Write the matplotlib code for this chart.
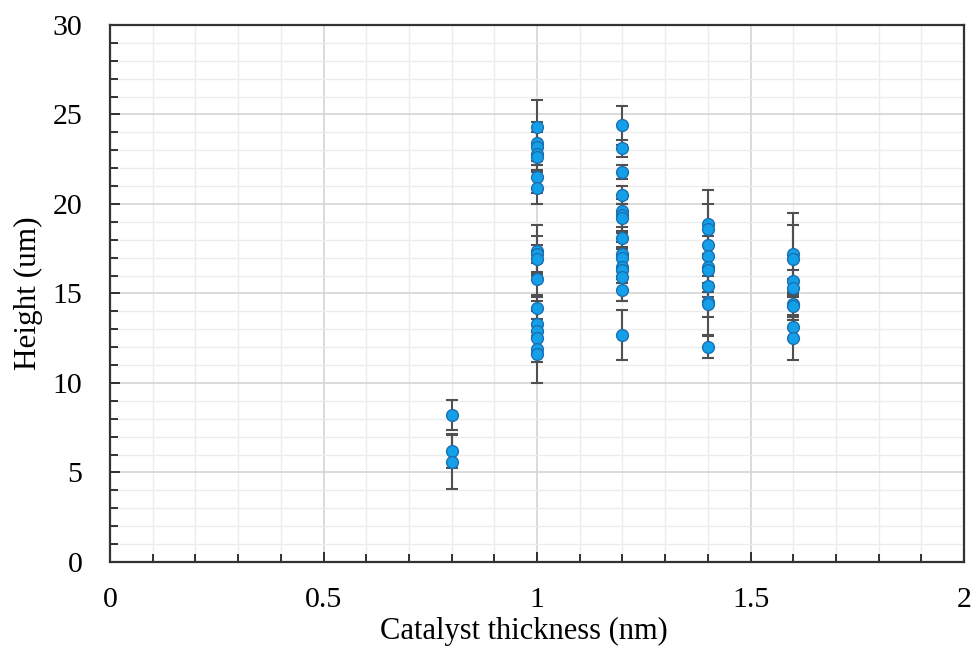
import numpy as np
import matplotlib.pyplot as plt
from matplotlib.ticker import MultipleLocator

# thickness groups (nm) and measured heights (um) with error bars
x08 = [0.8, 0.8, 0.8]
h08 = [8.2, 6.2, 5.6]
e08 = [0.85, 0.95, 1.5]

x10 = [1.0] * 17
h10 = [24.3, 23.4, 23.2, 22.8, 22.6, 21.5, 20.9, 17.4, 17.2, 16.9, 15.8, 14.2, 13.3, 12.9, 12.5, 11.9, 11.6]
e10 = [1.5, 1.2, 0.8, 0.6, 0.7, 0.9, 0.9, 1.4, 1.0, 0.8, 0.9, 0.6, 0.7, 1.7, 0.8, 0.7, 1.6]

x12 = [1.2] * 15
h12 = [24.4, 23.1, 21.8, 20.5, 19.6, 19.4, 19.2, 18.1, 17.2, 17.0, 16.5, 16.3, 15.9, 15.2, 12.7]
e12 = [1.1, 0.5, 0.4, 0.5, 0.4, 0.9, 0.8, 0.6, 0.7, 0.6, 0.5, 0.7, 1.3, 0.6, 1.4]

x14 = [1.4] * 10
h14 = [18.9, 18.6, 17.7, 17.1, 16.5, 16.3, 15.4, 14.5, 14.4, 12.0]
e14 = [1.9, 1.4, 0.5, 0.6, 1.2, 0.7, 0.6, 1.8, 0.7, 0.6]

x16 = [1.6] * 8
h16 = [17.2, 16.9, 15.7, 15.3, 14.4, 14.3, 13.1, 12.5]
e16 = [2.3, 1.9, 0.6, 0.5, 0.6, 0.8, 0.6, 1.2]

xs = x08 + x10 + x12 + x14 + x16
hs = h08 + h10 + h12 + h14 + h16
es = e08 + e10 + e12 + e14 + e16

plt.rcParams['font.family'] = ['Liberation Serif', 'DejaVu Serif']

fig = plt.figure(figsize=(9.72, 6.47), dpi=100)
ax = fig.add_axes([0.1132, 0.1314, 0.8786, 0.83])

ax.errorbar(xs, hs, yerr=es, fmt='none', ecolor='#505050', elinewidth=1.5,
            capsize=4, capthick=1.5, zorder=2)
ax.plot(xs, hs, 'o', markersize=8.5, markerfacecolor='#14a0e8',
        markeredgecolor='#1a6fb0', markeredgewidth=1.0, zorder=3)

ax.set_xlim(0, 2)
ax.set_ylim(0, 30)
ax.xaxis.set_major_locator(MultipleLocator(0.5))
ax.xaxis.set_minor_locator(MultipleLocator(0.1))
ax.yaxis.set_major_locator(MultipleLocator(5))
ax.yaxis.set_minor_locator(MultipleLocator(1))
ax.set_xticks([0, 0.5, 1, 1.5, 2])
ax.set_xticklabels(['0', '0.5', '1', '1.5', '2'])

ax.grid(which='major', color='#d4d4d4', linewidth=1.2, zorder=0)
ax.grid(which='minor', color='#ececec', linewidth=1.0, zorder=0)
ax.set_axisbelow(True)

ax.tick_params(axis='x', which='both', direction='in', bottom=True, top=False,
               labelsize=21.5, pad=18, color='#222222')
ax.tick_params(axis='y', which='both', direction='in', left=True, right=False,
               labelsize=21.5, pad=20, color='#222222')
ax.tick_params(which='major', length=7, width=1.3)
ax.tick_params(which='minor', length=6, width=1.3)

for s in ax.spines.values():
    s.set_color('#333333')
    s.set_linewidth(1.6)

ax.set_xlabel('Catalyst thickness (nm)', fontsize=22)
ax.xaxis.set_label_coords(0.485, -0.103)
ax.set_ylabel('Height (um)', fontsize=22.5, labelpad=7)

fig.savefig('out.png', dpi=100)
